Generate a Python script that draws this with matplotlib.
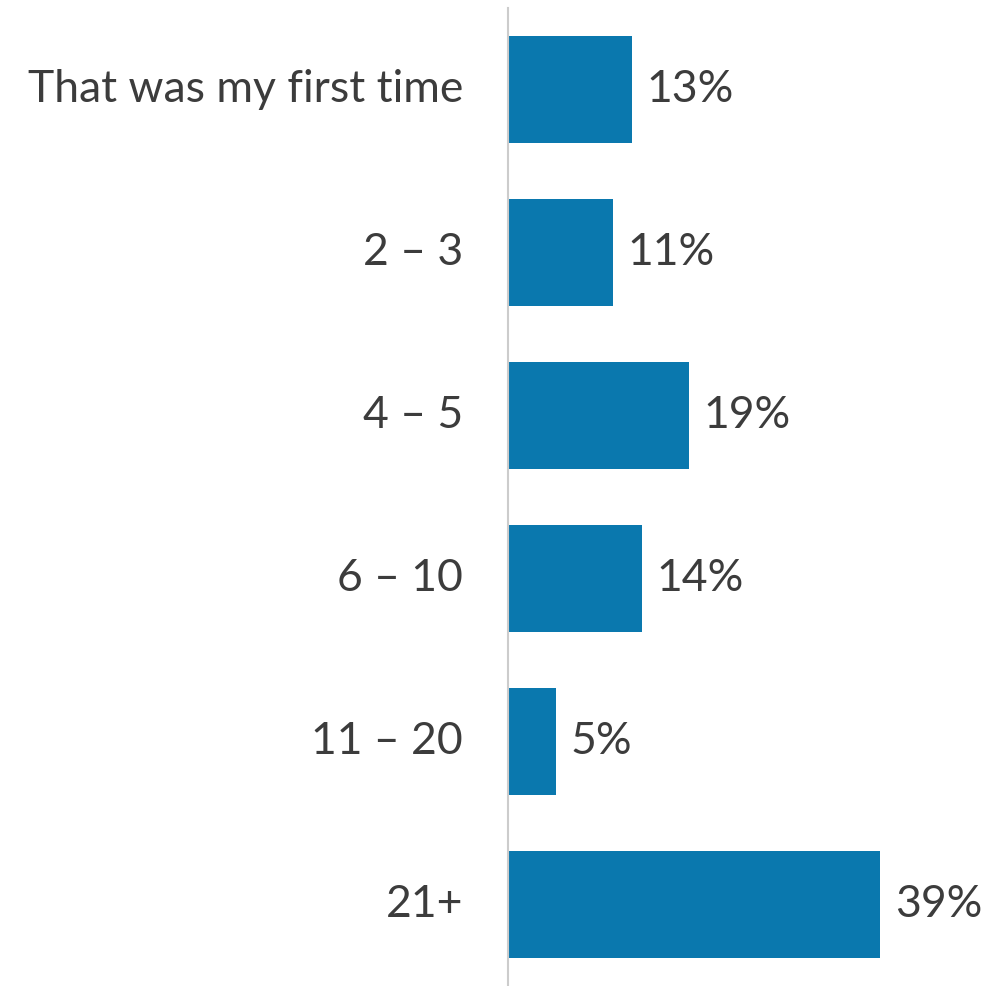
import matplotlib.pyplot as plt

categories = ['That was my first time', '2 – 3', '4 – 5', '6 – 10', '11 – 20', '21+']
values = [13, 11, 19, 14, 5, 39]

bar_color = '#0a78ae'
text_color = '#3c3c3c'

plt.rcParams['font.family'] = ['Lato', 'DejaVu Sans']

fig = plt.figure(figsize=(10.04, 9.86), dpi=100)
ax = fig.add_axes([508 / 1004, 0, 496 / 1004, 978 / 986])

y = range(len(categories))
ax.barh(y, values, height=0.66, color=bar_color)
ax.set_ylim(len(categories) - 0.5, -0.5)
ax.set_xlim(0, 496 / 9.55)

for i, v in enumerate(values):
    ax.text(v + 1.5, i, f'{v}%', va='center', ha='left', fontsize=32,
            color=text_color)
    ax.text(-4.7, i, categories[i], va='center', ha='right', fontsize=32,
            color=text_color)

ax.set_xticks([])
ax.set_yticks([])
for side in ['top', 'right', 'bottom']:
    ax.spines[side].set_visible(False)
ax.spines['left'].set_color('#cccccc')
ax.spines['left'].set_linewidth(1.5)

fig.savefig('out.png', dpi=100)
